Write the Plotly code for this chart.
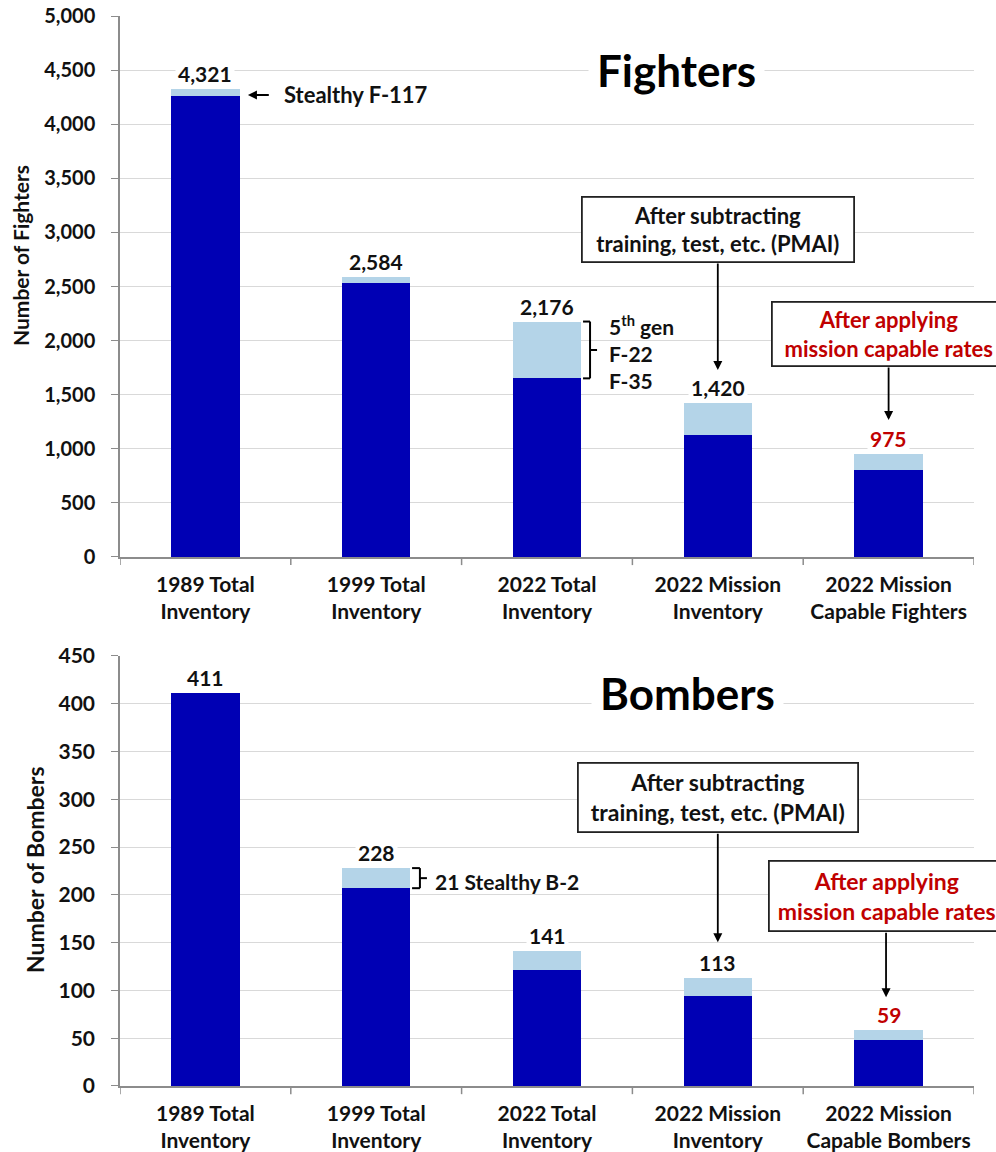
import plotly.graph_objects as go
from plotly.subplots import make_subplots

# ---------------- data ----------------
fighter_categories = ["1989 Total<br>Inventory", "1999 Total<br>Inventory", "2022 Total<br>Inventory",
                      "2022 Mission<br>Inventory", "2022 Mission<br>Capable Fighters"]
fighters_legacy = [4262, 2532, 1651, 1127, 800]
fighters_stealth = [59, 52, 525, 293, 150]
fighter_labels = ["4,321", "2,584", "2,176", "1,420", "975"]

bomber_categories = ["1989 Total<br>Inventory", "1999 Total<br>Inventory", "2022 Total<br>Inventory",
                     "2022 Mission<br>Inventory", "2022 Mission<br>Capable Bombers"]
bombers_legacy = [411, 207, 121, 94, 48]
bombers_stealth = [0, 21, 20, 19, 11]
bomber_labels = ["411", "228", "141", "113", "59"]

fighter_ticks = [0, 500, 1000, 1500, 2000, 2500, 3000, 3500, 4000, 4500, 5000]
bomber_ticks = [0, 50, 100, 150, 200, 250, 300, 350, 400, 450]

# ---------------- style ----------------
DARK = "#0000B4"
LIGHT = "#B4D4E8"
RED = "#C00000"
TXT = "#111111"
FONT = "Lato"
W, H = 996, 1152

fig = make_subplots(rows=2, cols=1, vertical_spacing=0.0925)

for cats, legacy, stealth, row in [(fighter_categories, fighters_legacy, fighters_stealth, 1),
                                   (bomber_categories, bombers_legacy, bombers_stealth, 2)]:
    xs = list(range(len(cats)))
    fig.add_trace(go.Bar(x=xs, y=legacy, marker=dict(color=DARK, line=dict(width=0)),
                         width=0.4, showlegend=False), row=row, col=1)
    fig.add_trace(go.Bar(x=xs, y=stealth, marker=dict(color=LIGHT, line=dict(width=0)),
                         width=0.4, showlegend=False), row=row, col=1)

fig.update_layout(
    barmode="stack",
    width=W, height=H,
    margin=dict(l=120, r=22, t=16, b=66),
    paper_bgcolor="white", plot_bgcolor="white",
    font=dict(family=FONT, color=TXT),
)

xcommon = dict(range=[-0.5, 4.5], tickmode="array", tickvals=list(range(5)),
               tickfont=dict(size=21, family=FONT, color=TXT), showgrid=False, showline=True,
               linecolor="#8C8C8C", linewidth=1.5, ticks="outside", ticklen=8,
               tickcolor="rgba(0,0,0,0)", zeroline=False, automargin=False)
ycommon = dict(gridcolor="#D9D9D9", gridwidth=1.3, showline=True, linecolor="#8C8C8C",
               linewidth=1.5, ticks="outside", ticklen=7, tickcolor="#8C8C8C",
               zeroline=False, automargin=False, ticklabelstandoff=12)

fig.update_layout(
    xaxis=dict(domain=[0, 1], ticktext=[f"<b>{c}</b>" for c in fighter_categories], **xcommon),
    yaxis=dict(domain=[0.4944, 1.0], range=[0, 5000], tickvals=fighter_ticks,
               ticktext=[f"<b>{v:,}</b>" for v in fighter_ticks],
               tickfont=dict(size=20, family=FONT, color=TXT), **ycommon),
    xaxis2=dict(domain=[0, 1], ticktext=[f"<b>{c}</b>" for c in bomber_categories], **xcommon),
    yaxis2=dict(domain=[0.0, 0.4019], range=[0, 450], tickvals=bomber_ticks,
                ticktext=[f"<b>{v}</b>" for v in bomber_ticks],
                tickfont=dict(size=21, family=FONT, color=TXT), **ycommon),
)

# category separator ticks on the x axes
for i in range(6):
    for xr, yr, ln in [("x", "y domain", -0.015), ("x2", "y2 domain", -0.019)]:
        fig.add_shape(type="line", xref=xr, yref=yr, x0=i - 0.5, x1=i - 0.5, y0=0, y1=ln,
                      line=dict(color="#8C8C8C", width=1.5))

ann = []

# value labels
for i, (a, b, lab) in enumerate(zip(fighters_legacy, fighters_stealth, fighter_labels)):
    ann.append(dict(xref="x", yref="y", x=i, y=a + b, text=f"<b>{lab}</b>", showarrow=False,
                    yanchor="bottom", yshift=0, bgcolor="white", borderpad=2,
                    font=dict(size=21, color=RED if i == 4 else TXT, family=FONT)))
for i, (a, b, lab) in enumerate(zip(bombers_legacy, bombers_stealth, bomber_labels)):
    ann.append(dict(xref="x2", yref="y2", x=i, y=a + b, text=f"<b>{lab}</b>", showarrow=False,
                    yanchor="bottom", yshift=0, bgcolor="white", borderpad=2,
                    font=dict(size=21, color=RED if i == 4 else TXT, family=FONT)))

# titles
ann.append(dict(xref="x", yref="y", x=2.76, y=4500, text="<b>Fighters</b>", showarrow=False,
                bgcolor="white", borderpad=8, font=dict(size=44, family=FONT, color="black")))
ann.append(dict(xref="x2", yref="y2", x=2.82, y=411, text="<b>Bombers</b>", showarrow=False,
                bgcolor="white", borderpad=8, font=dict(size=44, family=FONT, color="black")))

# y-axis titles
ann.append(dict(xref="paper", yref="paper", x=(20 - 120) / 854, y=(1086 - 256) / 1070,
                xanchor="center", yanchor="middle",
                text="<b>Number of Fighters</b>", textangle=-90, showarrow=False,
                font=dict(size=21, family=FONT, color=TXT)))
ann.append(dict(xref="paper", yref="paper", x=(35 - 120) / 854, y=(1086 - 870) / 1070,
                xanchor="center", yanchor="middle",
                text="<b>Number of Bombers</b>", textangle=-90, showarrow=False,
                font=dict(size=23, family=FONT, color=TXT)))

# F-117 arrow + label
ann.append(dict(xref="x", yref="y", x=0.249, y=4270, ax=0.38, ay=4270, axref="x", ayref="y",
                text="", showarrow=True, arrowhead=2, arrowsize=1, arrowwidth=1.8, arrowcolor="black"))
ann.append(dict(xref="x", yref="y", x=0.448, y=4270, text="<b>Stealthy F-117</b>", showarrow=False,
                xanchor="left", font=dict(size=22, family=FONT, color=TXT)))

# 5th gen bracket
brace_f = [(2.211, 2176, 2.252, 2176), (2.252, 2176, 2.252, 1651), (2.211, 1651, 2.252, 1651),
           (2.252, 1913, 2.293, 1913)]
for x0, y0, x1, y1 in brace_f:
    fig.add_shape(type="line", xref="x", yref="y", x0=x0, y0=y0, x1=x1, y1=y1,
                  line=dict(color="black", width=2))
ann.append(dict(xref="x", yref="y", x=2.351, y=1895, text="<b>5<sup>th</sup> gen<br>F-22<br>F-35</b>",
                showarrow=False, xanchor="left", align="left",
                font=dict(size=21, family=FONT, color=TXT)))

# B-2 bracket
brace_b = [(1.210, 228, 1.256, 228), (1.256, 228, 1.256, 207), (1.210, 207, 1.256, 207),
           (1.256, 217.5, 1.297, 217.5)]
for x0, y0, x1, y1 in brace_b:
    fig.add_shape(type="line", xref="x2", yref="y2", x0=x0, y0=y0, x1=x1, y1=y1,
                  line=dict(color="black", width=2))
ann.append(dict(xref="x2", yref="y2", x=1.333, y=214, text="<b>21 Stealthy B-2</b>",
                showarrow=False, xanchor="left", font=dict(size=21, family=FONT, color=TXT)))


# callout boxes
def box(xr, yr, x, y, text, color, width, height, size):
    return dict(xref=xr, yref=yr, x=x, y=y, text=text, showarrow=False, align="center",
                bgcolor="white", bordercolor="#222222", borderwidth=1.8, borderpad=4,
                width=width, height=height, font=dict(size=size, family=FONT, color=color))


ann.append(box("x", "y", 3.0, 3027, "<b>After subtracting<br>training, test, etc. (PMAI)</b>", TXT, 262, 55, 22))
ann.append(dict(xref="x", yref="y", x=3.0, y=1728, ax=3.0, ay=2726, axref="x", ayref="y", text="",
                showarrow=True, arrowhead=2, arrowwidth=1.8, arrowcolor="black"))
ann.append(box("x", "y", 4.0, 2061, "<b>After applying<br>mission capable rates</b>", RED, 224, 54, 22))
ann.append(dict(xref="x", yref="y", x=4.0, y=1266, ax=4.0, ay=1765, axref="x", ayref="y", text="",
                showarrow=True, arrowhead=2, arrowwidth=1.8, arrowcolor="black"))

ann.append(box("x2", "y2", 3.0, 301.8, "<b>After subtracting<br>training, test, etc. (PMAI)</b>", TXT, 270, 59, 23))
ann.append(dict(xref="x2", yref="y2", x=3.0, y=150.5, ax=3.0, ay=265.6, axref="x2", ayref="y2", text="",
                showarrow=True, arrowhead=2, arrowwidth=1.8, arrowcolor="black"))
ann.append(box("x2", "y2", 3.99, 198.6, "<b>After applying<br>mission capable rates</b>", RED, 226, 60, 23))
ann.append(dict(xref="x2", yref="y2", x=3.985, y=92.9, ax=3.985, ay=162, axref="x2", ayref="y2", text="",
                showarrow=True, arrowhead=2, arrowwidth=1.8, arrowcolor="black"))

fig.update_layout(annotations=ann)

fig.write_html("out.html", config={"displayModeBar": False},
               post_script="document.body.style.margin='0';")
